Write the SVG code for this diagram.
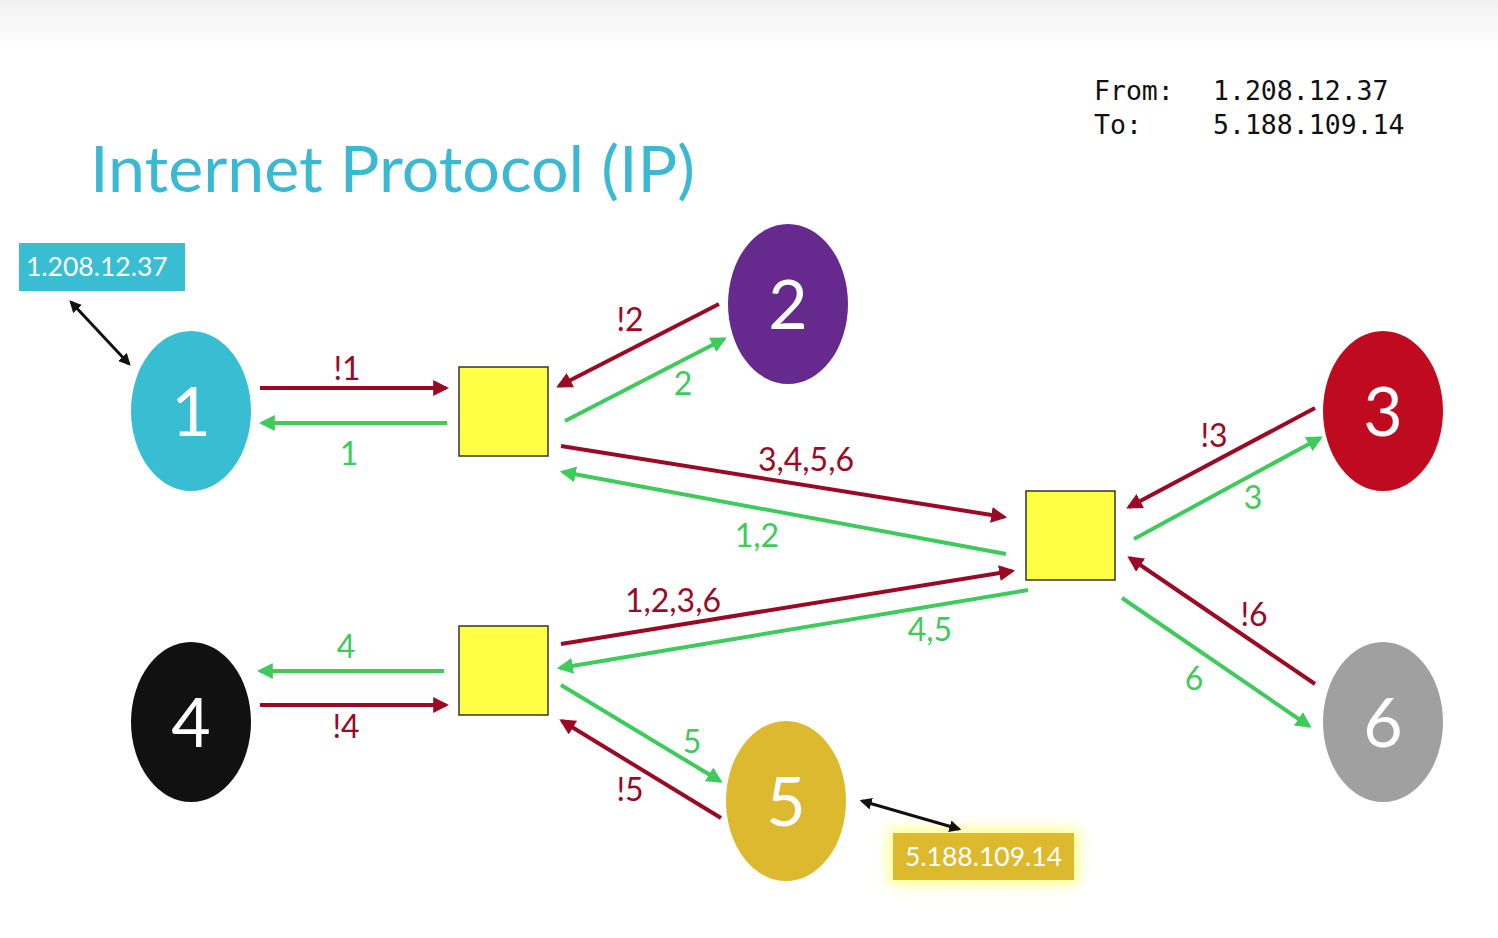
<svg xmlns="http://www.w3.org/2000/svg" width="1498" height="938" viewBox="0 0 1498 938">
<defs>
<linearGradient id="topbg" x1="0" y1="0" x2="0" y2="1"><stop offset="0" stop-color="#f1f1f1"/><stop offset="1" stop-color="#ffffff"/></linearGradient>
<marker id="ar" viewBox="0 0 10 10" refX="8" refY="5" markerWidth="4" markerHeight="4" orient="auto-start-reverse" markerUnits="strokeWidth"><path d="M0,0 L10,5 L0,10 z" fill="#9b0a25"/></marker>
<marker id="ag" viewBox="0 0 10 10" refX="8" refY="5" markerWidth="4" markerHeight="4" orient="auto-start-reverse" markerUnits="strokeWidth"><path d="M0,0 L10,5 L0,10 z" fill="#3ecb5b"/></marker>
<marker id="ak" viewBox="0 0 10 10" refX="8" refY="5" markerWidth="4" markerHeight="4" orient="auto-start-reverse" markerUnits="strokeWidth"><path d="M0,0 L10,5 L0,10 z" fill="#111"/></marker>
<filter id="glow" x="-30%" y="-60%" width="160%" height="220%"><feGaussianBlur stdDeviation="7"/></filter>
<style>
.red{stroke:#9b0a25;stroke-width:4;fill:none;marker-end:url(#ar)}
.grn{stroke:#3ecb5b;stroke-width:4;fill:none;marker-end:url(#ag)}
.blk{stroke:#111;stroke-width:3;fill:none;marker-end:url(#ak);marker-start:url(#ak)}
.lr{font-family:Lato,"Open Sans",sans-serif;font-size:32px;fill:#9b0a25;text-anchor:middle}
.lg{font-family:Lato,"Open Sans",sans-serif;font-size:32px;fill:#3ecb5b;text-anchor:middle}
.num{font-family:Lato,"Open Sans",sans-serif;font-size:68px;fill:#ffffff;text-anchor:middle}
.sq{fill:#ffff44;stroke:#333;stroke-width:1.5}
.mono{font-family:"DejaVu Sans Mono",monospace;font-size:26.5px;fill:#111}
.addr{font-family:Lato,"Open Sans",sans-serif;font-size:26.5px;fill:#ffffff}
</style>
</defs>
<rect width="1498" height="938" fill="#ffffff"/>
<rect width="1498" height="50" fill="url(#topbg)"/>

<text x="90" y="192" font-family="Lato,'Open Sans',sans-serif" font-size="63" fill="#3cb9d2" textLength="605" lengthAdjust="spacingAndGlyphs">Internet Protocol (IP)</text>

<g id="fromto">
<text class="mono" x="1094" y="100">From:</text>
<text class="mono" x="1213" y="100">1.208.12.37</text>
<text class="mono" x="1094" y="134">To:</text>
<text class="mono" x="1213" y="134">5.188.109.14</text>
</g>

<g id="addr1">
<rect x="19" y="243" width="166" height="48" fill="#38bdd3"/>
<text class="addr" x="26" y="276">1.208.12.37</text>
</g>
<g id="addr5">
<rect x="889" y="829" width="189" height="55" fill="#ffff66" filter="url(#glow)" opacity="0.8"/>
<rect x="893" y="833" width="181" height="47" fill="#ddb92e"/>
<text class="addr" x="905" y="866">5.188.109.14</text>
</g>

<g id="connectors">
<line class="blk" x1="71" y1="302" x2="129" y2="364"/>
<line class="blk" x1="862" y1="801" x2="959" y2="829"/>

<line class="red" x1="260" y1="388" x2="446" y2="388"/>
<line class="grn" x1="447" y1="423" x2="262" y2="423"/>
<line class="red" x1="719" y1="304" x2="559" y2="386"/>
<line class="grn" x1="565" y1="421" x2="724" y2="339"/>
<line class="red" x1="561" y1="446" x2="1004" y2="517"/>
<line class="grn" x1="1006" y1="554" x2="563" y2="472"/>
<line class="red" x1="561" y1="644" x2="1012" y2="571"/>
<line class="grn" x1="1028" y1="590" x2="560" y2="668"/>
<line class="grn" x1="444" y1="671" x2="260" y2="671"/>
<line class="red" x1="260" y1="705" x2="446" y2="705"/>
<line class="grn" x1="561" y1="685" x2="720" y2="781"/>
<line class="red" x1="721" y1="818" x2="562" y2="721"/>
<line class="red" x1="1315" y1="408" x2="1129" y2="507"/>
<line class="grn" x1="1134" y1="539" x2="1320" y2="438"/>
<line class="red" x1="1315" y1="684" x2="1130" y2="558"/>
<line class="grn" x1="1122" y1="598" x2="1309" y2="726"/>

<text class="lr" x="347" y="380">!1</text>
<text class="lg" x="349" y="465">1</text>
<text class="lr" x="630" y="331">!2</text>
<text class="lg" x="683" y="395">2</text>
<text class="lr" x="806" y="471">3,4,5,6</text>
<text class="lg" x="757" y="547">1,2</text>
<text class="lr" x="673" y="612">1,2,3,6</text>
<text class="lg" x="930" y="641">4,5</text>
<text class="lg" x="346" y="658">4</text>
<text class="lr" x="346" y="738">!4</text>
<text class="lg" x="692" y="753">5</text>
<text class="lr" x="630" y="801">!5</text>
<text class="lr" x="1214" y="447">!3</text>
<text class="lg" x="1253" y="509">3</text>
<text class="lr" x="1254" y="626">!6</text>
<text class="lg" x="1194" y="690">6</text>
</g>

<g id="router1"><rect class="sq" x="459" y="367" width="89" height="89"/></g>
<g id="router2"><rect class="sq" x="459" y="626" width="89" height="89"/></g>
<g id="router3"><rect class="sq" x="1026" y="491" width="89" height="89"/></g>

<g id="node1"><ellipse cx="191" cy="411" rx="60" ry="80" fill="#38bdd3"/><text class="num" x="191" y="436">1</text></g>
<g id="node2"><ellipse cx="788" cy="304" rx="60" ry="80" fill="#662a8f"/><text class="num" x="788" y="329">2</text></g>
<g id="node3"><ellipse cx="1383" cy="411" rx="60" ry="80" fill="#c00a20"/><text class="num" x="1383" y="436">3</text></g>
<g id="node4"><ellipse cx="191" cy="722" rx="60" ry="80" fill="#111111"/><text class="num" x="191" y="747">4</text></g>
<g id="node5"><ellipse cx="786" cy="801" rx="60" ry="80" fill="#dcb92f"/><text class="num" x="786" y="826">5</text></g>
<g id="node6"><ellipse cx="1383" cy="722" rx="60" ry="80" fill="#a0a0a0"/><text class="num" x="1383" y="747">6</text></g>
</svg>
